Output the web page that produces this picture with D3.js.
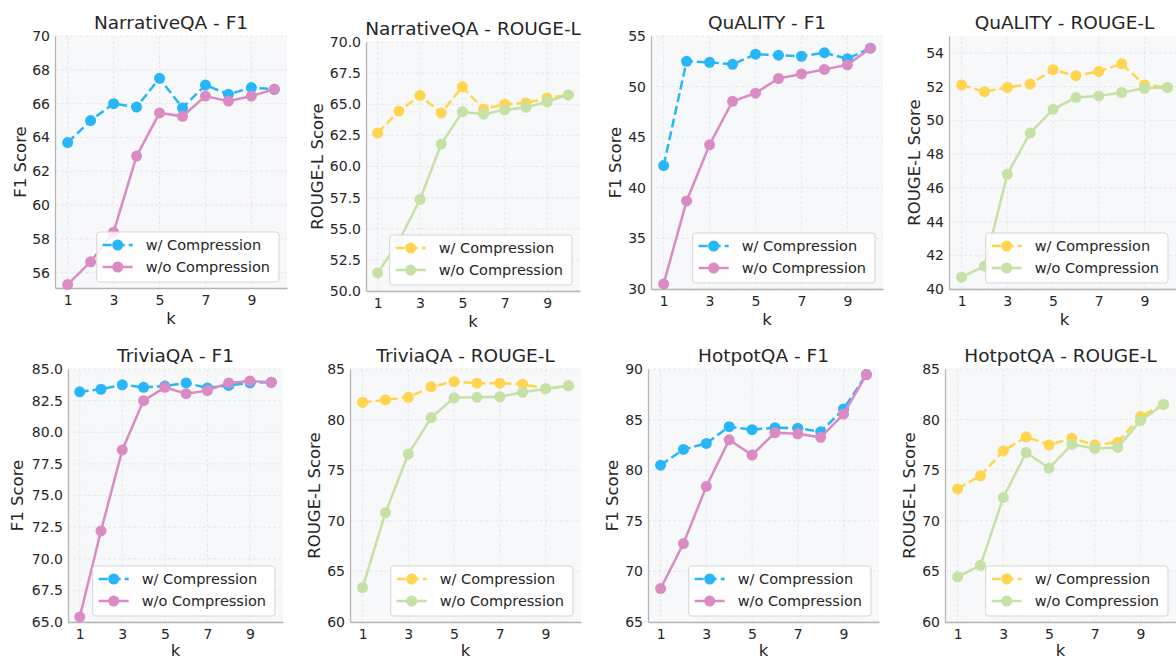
<!DOCTYPE html>
<html>
<head>
<meta charset="utf-8">
<script src="https://cdn.jsdelivr.net/npm/d3@7"></script>
<style>
  body { margin: 0; background: #fff; }
  text { font-family: "DejaVu Sans", sans-serif; fill: #262626; }
</style>
</head>
<body>
<svg id="chart" width="1176" height="660"></svg>
<script>
// k values and the ticks shown on the x axis
const ks = [1, 2, 3, 4, 5, 6, 7, 8, 9, 10]
const kTicks = [1, 3, 5, 7, 9]
const seriesNames = ["w/ Compression", "w/o Compression"]

// NarrativeQA
const nqaF1With = [63.7, 65.0, 66.0, 65.8, 67.5, 65.75, 67.1, 66.55, 66.95, 66.85]
const nqaF1Without = [55.3, 56.65, 58.4, 62.9, 65.45, 65.25, 66.45, 66.15, 66.45, 66.85]
const nqaRougeWith = [62.7, 64.45, 65.7, 64.3, 66.4, 64.6, 65.0, 65.1, 65.5, 65.75]
const nqaRougeWithout = [51.45, 54.0, 57.35, 61.8, 64.4, 64.2, 64.55, 64.75, 65.2, 65.75]
// QuALITY
const qualF1With = [42.2, 52.5, 52.4, 52.2, 53.2, 53.1, 53.0, 53.35, 52.75, 53.8]
const qualF1Without = [30.5, 38.7, 44.25, 48.55, 49.35, 50.8, 51.25, 51.7, 52.15, 53.8]
const qualRougeWith = [52.1, 51.7, 51.95, 52.15, 53.0, 52.65, 52.9, 53.35, 52.1, 51.95]
const qualRougeWithout = [40.7, 41.35, 46.8, 49.25, 50.65, 51.35, 51.45, 51.65, 51.9, 51.95]
// TriviaQA
const triF1With = [83.2, 83.4, 83.75, 83.55, 83.65, 83.9, 83.5, 83.7, 83.9, 83.95]
const triF1Without = [65.4, 72.2, 78.6, 82.5, 83.55, 83.05, 83.3, 83.9, 84.05, 83.95]
const triRougeWith = [81.7, 81.95, 82.2, 83.25, 83.75, 83.6, 83.6, 83.5, 83.05, 83.35]
const triRougeWithout = [63.4, 70.8, 76.6, 80.2, 82.15, 82.2, 82.25, 82.7, 83.05, 83.35]
// HotpotQA
const hotF1With = [80.5, 82.05, 82.65, 84.3, 84.0, 84.2, 84.15, 83.8, 86.05, 89.45]
const hotF1Without = [68.3, 72.75, 78.4, 83.0, 81.5, 83.7, 83.6, 83.25, 85.55, 89.45]
const hotRougeWith = [73.15, 74.45, 76.9, 78.3, 77.5, 78.15, 77.5, 77.75, 80.3, 81.5]
const hotRougeWithout = [64.45, 65.6, 72.3, 76.75, 75.2, 77.55, 77.15, 77.25, 79.9, 81.5]

// y tick labels per panel
const nqaF1Ticks = [56, 58, 60, 62, 64, 66, 68, 70]
const nqaRougeTicks = [50, 52.5, 55, 57.5, 60, 62.5, 65, 67.5, 70]
const qualF1Ticks = [30, 35, 40, 45, 50, 55]
const qualRougeTicks = [40, 42, 44, 46, 48, 50, 52, 54]
const triF1Ticks = [65, 67.5, 70, 72.5, 75, 77.5, 80, 82.5, 85]
const triRougeTicks = [60, 65, 70, 75, 80, 85]
const hotF1Ticks = [65, 70, 75, 80, 85, 90]
const hotRougeTicks = [60, 65, 70, 75, 80, 85]

const f1Colors = ["#29B6F6", "#DA8BC3"]
const rougeColors = ["#FFD54F", "#C5E1A5"]

const panels = [
  {title: "NarrativeQA - F1", ylab: "F1 Score", w: nqaF1With, wo: nqaF1Without, dom: [55.1, 70], ticks: nqaF1Ticks, fmt: d3.format("d"), col: f1Colors, l: 55, r: 287, t: 36, b: 288, yl: 35},
  {title: "NarrativeQA - ROUGE-L", ylab: "ROUGE-L Score", w: nqaRougeWith, wo: nqaRougeWithout, dom: [50, 70], ticks: nqaRougeTicks, fmt: d3.format(".1f"), col: rougeColors, l: 366, r: 580, t: 42, b: 291, yl: 49},
  {title: "QuALITY - F1", ylab: "F1 Score", w: qualF1With, wo: qualF1Without, dom: [30, 55], ticks: qualF1Ticks, fmt: d3.format("d"), col: f1Colors, l: 651, r: 883, t: 36, b: 289, yl: 36},
  {title: "QuALITY - ROUGE-L", ylab: "ROUGE-L Score", w: qualRougeWith, wo: qualRougeWithout, dom: [40, 55], ticks: qualRougeTicks, fmt: d3.format("d"), col: rougeColors, l: 949, r: 1180, t: 36, b: 289, yl: 35},
  {title: "TriviaQA - F1", ylab: "F1 Score", w: triF1With, wo: triF1Without, dom: [65, 85], ticks: triF1Ticks, fmt: d3.format(".1f"), col: f1Colors, l: 68, r: 283, t: 369, b: 622, yl: 51},
  {title: "TriviaQA - ROUGE-L", ylab: "ROUGE-L Score", w: triRougeWith, wo: triRougeWithout, dom: [60, 85], ticks: triRougeTicks, fmt: d3.format("d"), col: rougeColors, l: 350, r: 581, t: 369, b: 622, yl: 36},
  {title: "HotpotQA - F1", ylab: "F1 Score", w: hotF1With, wo: hotF1Without, dom: [65, 90], ticks: hotF1Ticks, fmt: d3.format("d"), col: f1Colors, l: 648, r: 879, t: 369, b: 622, yl: 36},
  {title: "HotpotQA - ROUGE-L", ylab: "ROUGE-L Score", w: hotRougeWith, wo: hotRougeWithout, dom: [60, 85], ticks: hotRougeTicks, fmt: d3.format("d"), col: rougeColors, l: 945, r: 1176, t: 369, b: 622, yl: 36}
]

const svg = d3.select("#chart")

panels.forEach(p => {
  const x = d3.scaleLinear().domain([0.45, 10.55]).range([p.l, p.r])
  const y = d3.scaleLinear().domain(p.dom).range([p.b, p.t])
  const g = svg.append("g")

  // plot background
  g.append("rect")
    .attr("x", p.l).attr("y", p.t)
    .attr("width", p.r - p.l).attr("height", p.b - p.t)
    .attr("fill", "#f7f8fa")

  // grid
  g.selectAll(".gx").data(kTicks).join("line")
    .attr("x1", d => x(d)).attr("x2", d => x(d))
    .attr("y1", p.t).attr("y2", p.b)
    .attr("stroke", "#e2e3e5").attr("stroke-width", 0.8).attr("stroke-dasharray", "3,2")
  g.selectAll(".gy").data(p.ticks).join("line")
    .attr("x1", p.l).attr("x2", p.r)
    .attr("y1", d => y(d)).attr("y2", d => y(d))
    .attr("stroke", "#e2e3e5").attr("stroke-width", 0.8).attr("stroke-dasharray", "3,2")

  // axes
  const xAxis = g.append("g").attr("transform", `translate(0,${p.b})`)
    .call(d3.axisBottom(x).tickValues(kTicks).tickSize(0).tickPadding(7).tickFormat(d3.format("d")))
  const yAxis = g.append("g").attr("transform", `translate(${p.l},0)`)
    .call(d3.axisLeft(y).tickValues(p.ticks).tickSize(0).tickPadding(5).tickFormat(p.fmt))
  ;[xAxis, yAxis].forEach(a => {
    a.select(".domain").attr("stroke", "#b5b5b5").attr("stroke-width", 1.3)
    a.selectAll("text").attr("font-size", "14px").attr("fill", "#262626")
      .attr("font-family", "DejaVu Sans, sans-serif")
  })

  // title and labels
  g.append("text")
    .attr("x", (p.l + p.r) / 2).attr("y", p.t - 7)
    .attr("text-anchor", "middle").attr("font-size", "18.5px")
    .text(p.title)
  g.append("text")
    .attr("x", (p.l + p.r) / 2).attr("y", Math.min(p.b + 36, 656))
    .attr("text-anchor", "middle").attr("font-size", "16.5px")
    .text("k")
  g.append("text")
    .attr("transform", `translate(${p.l - p.yl},${(p.t + p.b) / 2}) rotate(-90)`)
    .attr("text-anchor", "middle").attr("dy", "0.35em").attr("font-size", "16.5px")
    .text(p.ylab)

  // lines
  const line = d3.line().x((d, i) => x(ks[i])).y(d => y(d))
  ;[p.w, p.wo].forEach((vals, si) => {
    g.append("path")
      .attr("d", line(vals))
      .attr("fill", "none")
      .attr("stroke", p.col[si])
      .attr("stroke-width", 2.5)
      .attr("stroke-dasharray", si == 0 ? "9,4" : null)
    g.selectAll(".pt" + si).data(vals).join("circle")
      .attr("cx", (d, i) => x(ks[i]))
      .attr("cy", d => y(d))
      .attr("r", 5.5)
      .attr("fill", p.col[si])
  })

  // legend, lower right
  const leg = g.append("g")
  const box = leg.append("rect")
  const labels = seriesNames.map((name, si) => {
    const row = leg.append("g")
    row.append("line")
      .attr("x1", 6).attr("x2", 36).attr("y1", 13 + si * 22).attr("y2", 13 + si * 22)
      .attr("stroke", p.col[si]).attr("stroke-width", 2.5)
      .attr("stroke-dasharray", si == 0 ? "9,4" : null)
    row.append("circle").attr("cx", 21).attr("cy", 13 + si * 22).attr("r", 5.5).attr("fill", p.col[si])
    return row.append("text")
      .attr("x", 49).attr("y", 13 + si * 22).attr("dy", "0.35em")
      .attr("font-size", "14.5px")
      .text(name)
  })
  const tw = d3.max(labels, t => t.node().getComputedTextLength())
  const bw = 49 + tw + 9, bh = 50
  box.attr("width", bw).attr("height", bh).attr("rx", 3)
    .attr("fill", "#fff").attr("fill-opacity", 0.85)
    .attr("stroke", "#d5d5d5").attr("stroke-width", 1)
  leg.attr("transform", `translate(${Math.min(p.r, 1176) - 8 - bw},${p.b - 6 - bh})`)
})
</script>
</body>
</html>
